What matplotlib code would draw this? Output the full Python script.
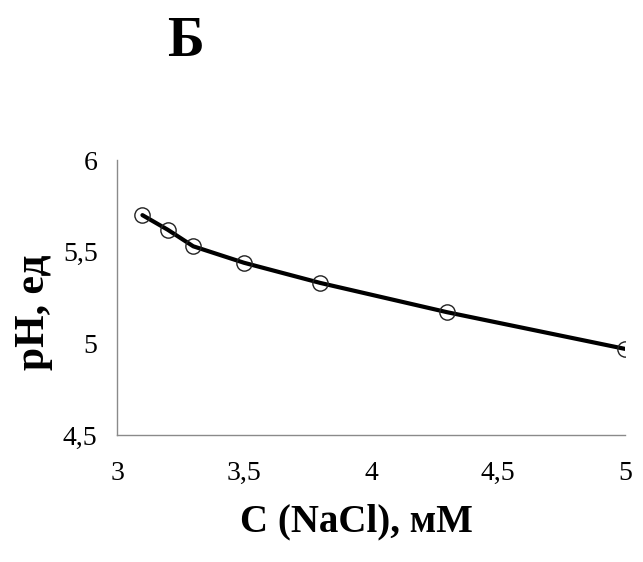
import matplotlib.pyplot as plt
from matplotlib.ticker import FuncFormatter

plt.rcParams['font.family'] = ['Liberation Serif', 'DejaVu Serif']

# NaCl concentration (mM) and measured pH
conc = [3.1, 3.2, 3.3, 3.5, 3.8, 4.3, 5.0]
ph = [5.70, 5.62, 5.53, 5.44, 5.33, 5.17, 4.97]

x_ticks = [3, 3.5, 4, 4.5, 5]
y_ticks = [4.5, 5, 5.5, 6]


def comma_fmt(v, pos):
    return ('%g' % v).replace('.', ',')


def main():
    fig = plt.figure(figsize=(6.43, 5.62), dpi=100)
    ax = fig.add_axes([0.182, 0.226, 0.79, 0.489])

    ax.plot(conc, ph, color='black', lw=3, solid_joinstyle='round',
            solid_capstyle='round', zorder=2)
    ax.plot(conc, ph, ls='none', marker='o', ms=11, mfc='none',
            mec='#222222', mew=1.0, zorder=3)

    ax.set_xlim(3, 5)
    ax.set_ylim(4.5, 6)
    ax.set_xticks(x_ticks)
    ax.set_yticks(y_ticks)
    ax.xaxis.set_major_formatter(FuncFormatter(comma_fmt))
    ax.yaxis.set_major_formatter(FuncFormatter(comma_fmt))
    ax.tick_params(axis='both', length=0, labelsize=20)
    ax.tick_params(axis='x', pad=19)
    ax.tick_params(axis='y', pad=14)

    for s in ['top', 'right']:
        ax.spines[s].set_visible(False)
    for s in ['left', 'bottom']:
        ax.spines[s].set_color('#8a8a8a')
        ax.spines[s].set_linewidth(1.0)

    ax.set_xlabel('C (NaCl), мМ', fontsize=28, fontweight='bold')
    ax.set_ylabel('pH, ед', fontsize=30, fontweight='bold')
    ax.xaxis.set_label_coords(0.472, -0.316)
    ax.xaxis.label.set_va('center')
    ax.yaxis.set_label_coords(-0.163, 0.447)
    ax.yaxis.label.set_va('center')
    fig.text(0.288, 0.925, 'Б', fontsize=40, fontweight='bold',
             ha='center', va='center')

    plt.savefig('out.png', dpi=100)
    plt.close()


if __name__ == "__main__":
    main()
